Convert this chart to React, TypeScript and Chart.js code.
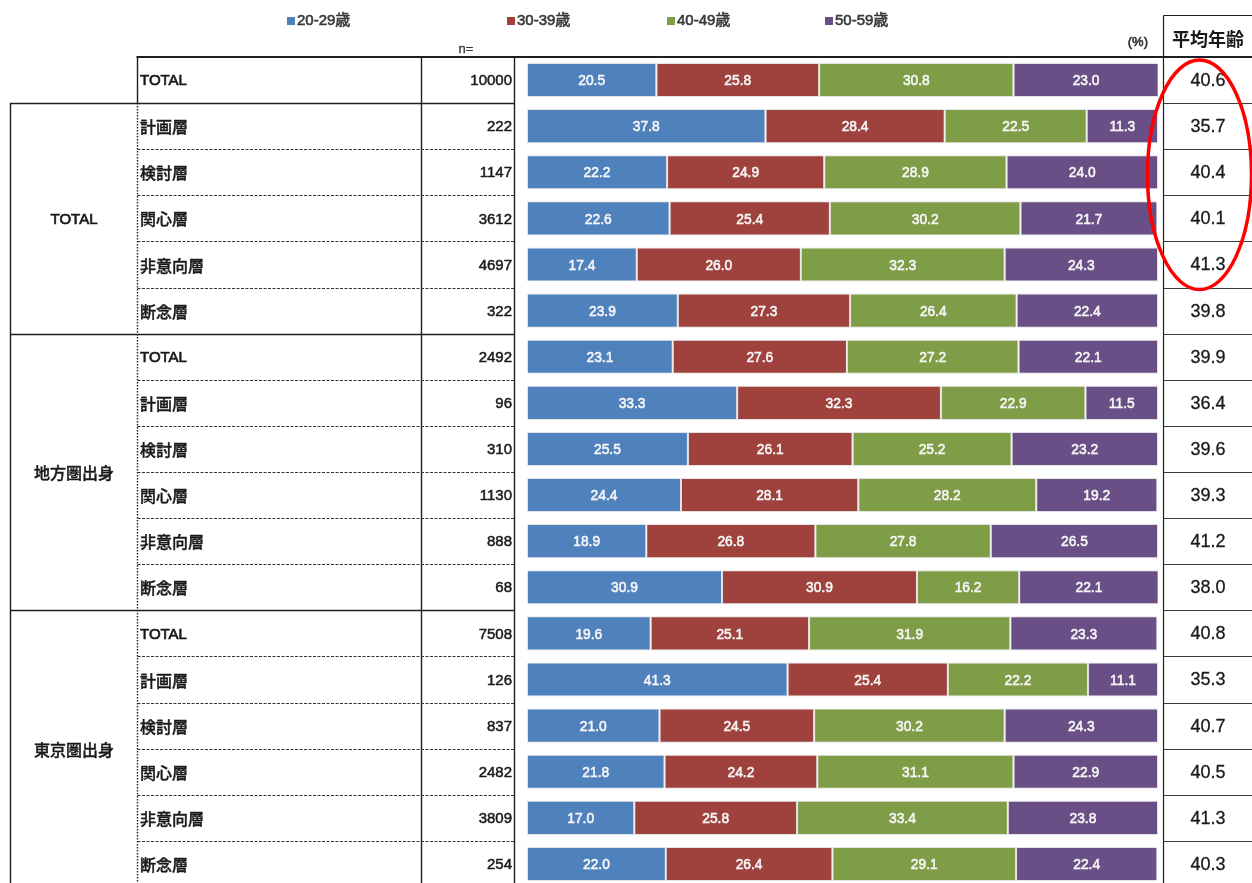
import React, { useEffect, useRef } from 'react';
import { Chart, registerables } from 'chart.js';
Chart.register(...registerables);

const rowLabels = ['TOTAL', '計画層', '検討層', '関心層', '非意向層', '断念層', 'TOTAL', '計画層', '検討層', '関心層', '非意向層', '断念層', 'TOTAL', '計画層', '検討層', '関心層', '非意向層', '断念層'];
const groupNames = ['TOTAL', '地方圏出身', '東京圏出身'];
const groupFirstRow = [1, 6, 12];
const groupLastRow = [5, 11, 17];
const nValues = [10000, 222, 1147, 3612, 4697, 322, 2492, 96, 310, 1130, 888, 68, 7508, 126, 837, 2482, 3809, 254];
const avgAge = [40.6, 35.7, 40.4, 40.1, 41.3, 39.8, 39.9, 36.4, 39.6, 39.3, 41.2, 38.0, 40.8, 35.3, 40.7, 40.5, 41.3, 40.3];
const age20s = [20.5, 37.8, 22.2, 22.6, 17.4, 23.9, 23.1, 33.3, 25.5, 24.4, 18.9, 30.9, 19.6, 41.3, 21.0, 21.8, 17.0, 22.0];
const age30s = [25.8, 28.4, 24.9, 25.4, 26.0, 27.3, 27.6, 32.3, 26.1, 28.1, 26.8, 30.9, 25.1, 25.4, 24.5, 24.2, 25.8, 26.4];
const age40s = [30.8, 22.5, 28.9, 30.2, 32.3, 26.4, 27.2, 22.9, 25.2, 28.2, 27.8, 16.2, 31.9, 22.2, 30.2, 31.1, 33.4, 29.1];
const age50s = [23.0, 11.3, 24.0, 21.7, 24.3, 22.4, 22.1, 11.5, 23.2, 19.2, 26.5, 22.1, 23.3, 11.1, 24.3, 22.9, 23.8, 22.4];
const seriesLabels = ['20-29歳', '30-39歳', '40-49歳', '50-59歳'];
const seriesColors = ['#4f81bd', '#9f413d', '#7f9c47', '#694f86'];
const headerAvg = '平均年齢';

const FONT = "'Liberation Sans', 'Noto Sans CJK JP', sans-serif";
const CJK = "'Noto Sans CJK JP', 'Liberation Sans', sans-serif";

function txt(ctx: any, s: string, x: number, y: number, font: string, color: string, align: string, stroke = 0.5) {
  ctx.font = font;
  ctx.fillStyle = color;
  ctx.textAlign = align;
  ctx.textBaseline = 'middle';
  ctx.fillText(s, x, y);
  if (stroke > 0) {
    ctx.strokeStyle = color;
    ctx.lineWidth = stroke;
    ctx.setLineDash([]);
    ctx.strokeText(s, x, y);
  }
}

const labelsPlugin = {
  id: 'segLabels',
  afterDatasetsDraw(chart: any) {
    const ctx = chart.ctx;
    ctx.save();
    chart.data.datasets.forEach((ds: any, di: number) => {
      const meta = chart.getDatasetMeta(di);
      meta.data.forEach((el: any, i: number) => {
        const v = ds.data[i];
        const cx = (el.x + el.base) / 2;
        ctx.save();
        ctx.translate(cx, el.y + 1);
        ctx.scale(0.92, 1);
        txt(ctx, v.toFixed(1), 0, 0, `15px ${FONT}`, '#f6f6f6', 'center', 0.6);
        ctx.restore();
      });
    });
    ctx.restore();
  },
};

const tablePlugin = {
  id: 'tableFrame',
  afterDraw(chart: any) {
    const ctx = chart.ctx;
    const ys = chart.scales.y;
    const H = chart.height;
    const n = rowLabels.length;
    const band = ys.getPixelForValue(1) - ys.getPixelForValue(0);
    const top = (i: number) => ys.getPixelForValue(i) - band / 2;
    const mid = (i: number) => ys.getPixelForValue(i);
    const xOuter = 10.5, xLabel = 137.5, xN = 421.5, xNEnd = 514.5, xAvg = 1163.5, xRight = 1252;
    const line = (x1: number, y1: number, x2: number, y2: number) => {
      ctx.beginPath();
      ctx.moveTo(x1, y1);
      ctx.lineTo(x2, y2);
      ctx.stroke();
    };
    ctx.save();
    ctx.strokeStyle = '#1e1e1e';
    ctx.lineWidth = 2.2;
    line(xLabel - 1, Math.round(top(0)), xRight, Math.round(top(0)));
    ctx.lineWidth = 1.2;
    line(xAvg, 15.5, xRight, 15.5);
    line(xAvg, 15.5, xAvg, H);
    ctx.lineWidth = 1.4;
    line(xN, top(0), xN, H);
    line(xNEnd, top(0), xNEnd, H);
    line(xOuter, top(1), xOuter, H);
    line(xLabel, top(0), xLabel, top(1));
    ctx.setLineDash([1.5, 1.5]);
    line(xLabel, top(1), xLabel, H);
    ctx.setLineDash([]);
    ctx.lineWidth = 1.4;
    line(xOuter - 0.5, Math.round(top(1)) + 0.5, xNEnd, Math.round(top(1)) + 0.5);
    for (let g = 1; g < groupFirstRow.length; g++) {
      const yy = Math.round(top(groupFirstRow[g])) + 0.5;
      line(xOuter - 0.5, yy, xNEnd, yy);
    }
    ctx.lineWidth = 1;
    ctx.strokeStyle = '#333';
    for (let g = 0; g < groupFirstRow.length; g++) {
      for (let r = groupFirstRow[g] + 1; r <= groupLastRow[g]; r++) {
        const yy = Math.round(top(r)) + 0.5;
        ctx.setLineDash([3, 1.5]);
        line(xLabel, yy, xNEnd, yy);
        ctx.setLineDash([]);
      }
    }
    ctx.strokeStyle = '#3a3a3a';
    ctx.lineWidth = 1.2;
    for (let r = 1; r < n; r++) {
      const yy = Math.round(top(r)) + 0.5;
      line(xAvg, yy, xRight, yy);
    }
    // texts
    const dark = '#1a1a1a';
    for (let r = 0; r < n; r++) {
      const latin = /^[A-Z]/.test(rowLabels[r]);
      txt(ctx, rowLabels[r], 140, mid(r) + 1, latin ? `15px ${FONT}` : `500 16px ${CJK}`, dark, 'left', latin ? 0.7 : 0.4);
      txt(ctx, String(nValues[r]), 512, mid(r) + 1, `15px ${FONT}`, dark, 'right', 0.5);
      txt(ctx, avgAge[r].toFixed(1), 1208, mid(r) + 1, `18px ${FONT}`, dark, 'center', 0.3);
    }
    for (let g = 0; g < groupNames.length; g++) {
      const yy = (top(groupFirstRow[g]) + top(groupLastRow[g] + 1)) / 2;
      const latin = /^[A-Z]/.test(groupNames[g]);
      txt(ctx, groupNames[g], 74, yy + 1, latin ? `15px ${FONT}` : `500 16px ${CJK}`, dark, 'center', latin ? 0.7 : 0.4);
    }
    txt(ctx, headerAvg, 1208, 39, `bold 18px ${CJK}`, dark, 'center', 0);
    txt(ctx, 'n=', 466, 49, `13px ${FONT}`, '#333', 'center', 0.3);
    txt(ctx, '(%)', 1148, 42, `13px ${FONT}`, '#333', 'right', 0.6);
    // legend
    const legendX = [287, 507, 667, 825];
    for (let k = 0; k < seriesLabels.length; k++) {
      ctx.fillStyle = seriesColors[k];
      ctx.fillRect(legendX[k], 17, 8, 8);
      txt(ctx, seriesLabels[k], legendX[k] + 10, 21, `15px ${FONT}`, '#3a3a3a', 'left', 0.6);
    }
    // red ellipse
    ctx.strokeStyle = '#ff0000';
    ctx.lineWidth = 3.5;
    ctx.beginPath();
    const eTop = mid(0) - 20, eBot = mid(4) + 25;
    ctx.ellipse(1199.5, (eTop + eBot) / 2, 52, (eBot - eTop) / 2, 0, 0, Math.PI * 2);
    ctx.stroke();
    ctx.restore();
  },
};

export default function App() {
  const ref = useRef<HTMLCanvasElement>(null);
  useEffect(() => {
    if (!ref.current) return;
    const series = [age20s, age30s, age40s, age50s];
    const chart = new Chart(ref.current, {
      type: 'bar',
      data: {
        labels: rowLabels,
        datasets: series.map((d, k) => ({
          label: seriesLabels[k],
          data: d,
          backgroundColor: seriesColors[k],
          borderColor: 'rgba(225,225,225,0.9)',
          borderWidth: 1,
          borderSkipped: false,
          categoryPercentage: 1,
          barPercentage: 0.74,
        })),
      },
      options: {
        indexAxis: 'y',
        animation: false,
        responsive: false,
        devicePixelRatio: 1,
        layout: { padding: { left: 527, right: 94, top: 57, bottom: 0 } },
        scales: {
          x: { stacked: true, min: 0, max: 100, display: false },
          y: { stacked: true, display: false },
        },
        plugins: { legend: { display: false }, tooltip: { enabled: false } },
      },
      plugins: [labelsPlugin, tablePlugin],
    });
    return () => chart.destroy();
  }, []);
  return (
    <div style={{ position: 'absolute', left: 0, top: 0, width: 1252, height: 883, overflow: 'hidden', background: '#fff' }}>
      <canvas ref={ref} width={1252} height={887} style={{ width: 1252, height: 887, display: 'block' }} />
    </div>
  );
}
